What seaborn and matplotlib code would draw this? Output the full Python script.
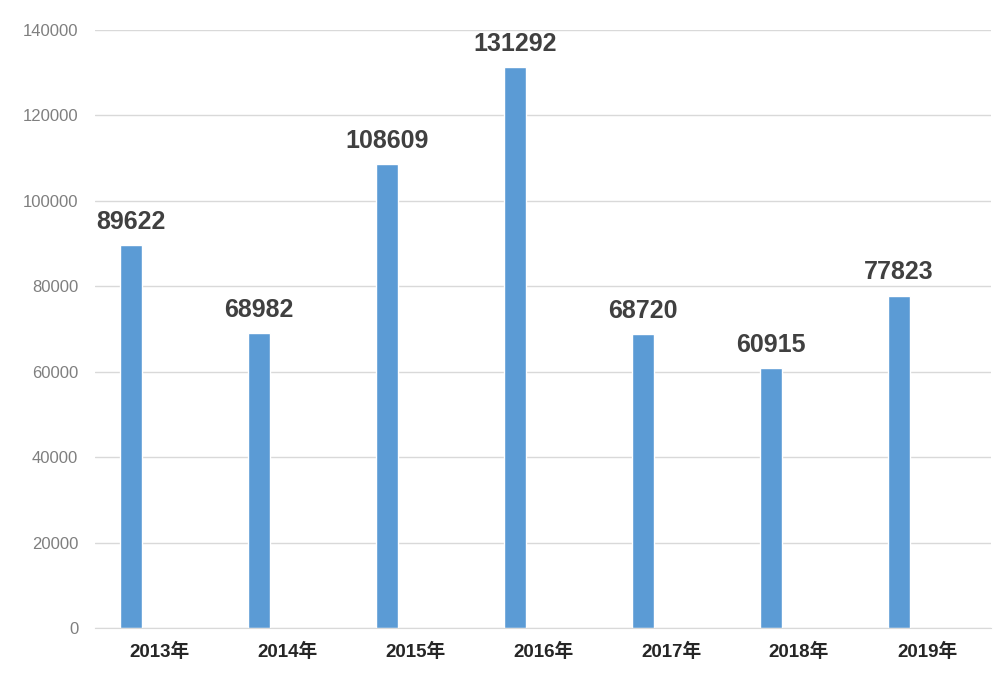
import pandas as pd
import matplotlib
matplotlib.use('Agg')
import matplotlib.pyplot as plt
import seaborn as sns

#%%
years = ['2013年', '2014年', '2015年', '2016年', '2017年', '2018年', '2019年']
values = [89622, 68982, 108609, 131292, 68720, 60915, 77823]
series = ['成交量', '']

df = pd.DataFrame({'year': years, 'value': values, 'series': series[0]})

#%%
sns.set_style('white')
plt.rcParams['font.family'] = ['Liberation Sans', 'Noto Sans CJK SC', 'DejaVu Sans']

fig, ax = plt.subplots(figsize=(10, 6.97), dpi=100)
fig.subplots_adjust(left=0.095, right=0.991, top=0.957, bottom=0.099)

sns.barplot(data=df, x='year', y='value', hue='series', hue_order=series,
            palette=['#5b9bd5', '#ed7d31'], saturation=1, width=0.875, gap=0.607,
            dodge=True, legend=False, ax=ax)

ax.bar_label(ax.containers[0], labels=[str(v) for v in values], padding=8,
             fontsize=18, color='#404040', fontweight='bold')

ax.set_ylim(0, 140000)
ax.set_yticks(range(0, 140001, 20000))
ax.yaxis.grid(True, color='#d9d9d9', linewidth=1)
ax.set_axisbelow(True)
for s in ['top', 'right', 'left']:
    ax.spines[s].set_visible(False)
ax.spines['bottom'].set_color('#d9d9d9')
ax.tick_params(axis='y', length=0, pad=12, labelsize=12, labelcolor='#7f7f7f')
ax.tick_params(axis='x', length=0, pad=11, labelsize=13.5)
for t in ax.get_xticklabels():
    t.set_fontweight('bold')
    t.set_color('#262626')
ax.set_xlabel('')
ax.set_ylabel('')

plt.savefig('out.png', dpi=100)
